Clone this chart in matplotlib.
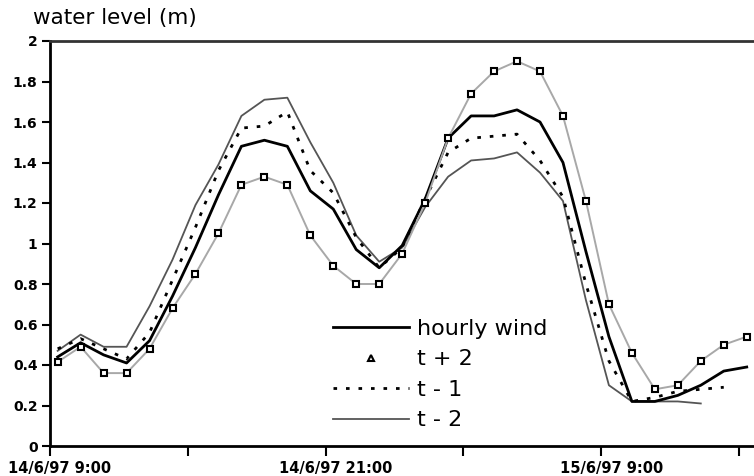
import matplotlib
matplotlib.use("Agg")
import matplotlib.pyplot as plt
from matplotlib.lines import Line2D
import matplotlib.transforms as mtransforms
import pandas as pd

# ---- data ----
times = pd.date_range("1997-06-14 09:20", periods=31, freq="h")

hourly_wind = [0.44, 0.51, 0.45, 0.41, 0.52, 0.74, 0.98, 1.24, 1.48, 1.51, 1.48, 1.26,
               1.17, 0.97, 0.88, 0.99, 1.22, 1.52, 1.63, 1.63, 1.66, 1.60, 1.40, 0.96,
               0.54, 0.22, 0.22, 0.25, 0.30, 0.37, 0.39]
t_plus2 = [0.415, 0.49, 0.36, 0.36, 0.48, 0.68, 0.85, 1.05, 1.29, 1.33, 1.29, 1.04,
           0.89, 0.80, 0.80, 0.95, 1.20, 1.52, 1.74, 1.85, 1.90, 1.85, 1.63, 1.21,
           0.70, 0.46, 0.28, 0.30, 0.42, 0.50, 0.54]
t_minus1 = [0.48, 0.53, 0.48, 0.43, 0.56, 0.82, 1.08, 1.36, 1.57, 1.58, 1.65, 1.36,
            1.25, 1.03, 0.88, 0.98, 1.22, 1.45, 1.52, 1.53, 1.54, 1.41, 1.23, 0.80,
            0.42, 0.22, 0.24, 0.27, 0.28, 0.29]
t_minus2 = [0.47, 0.55, 0.49, 0.49, 0.69, 0.92, 1.19, 1.39, 1.63, 1.71, 1.72, 1.50,
            1.30, 1.04, 0.91, 0.98, 1.18, 1.33, 1.41, 1.42, 1.45, 1.35, 1.21, 0.72,
            0.30, 0.22, 0.22, 0.22, 0.21]

series_labels = ["hourly wind", "t + 2", "t - 1", "t - 2"]
y_ticks = [0, 0.2, 0.4, 0.6, 0.8, 1, 1.2, 1.4, 1.6, 1.8, 2]
y_tick_labels = ["0", "0.2", "0.4", "0.6", "0.8", "1", "1.2", "1.4", "1.6", "1.8", "2"]
x_start = pd.Timestamp("1997-06-14 09:00")
x_end = pd.Timestamp("1997-06-15 15:39")
x_major = pd.date_range("1997-06-14 09:00", periods=3, freq="12h")
x_minor = pd.date_range("1997-06-14 09:00", periods=6, freq="6h")
x_tick_labels = ["14/6/97 9:00", "14/6/97 21:00", "15/6/97 9:00"]
y_title = "water level (m)"

# ---- figure ----
fig = plt.figure(figsize=(7.54, 4.76), dpi=100)
ax = fig.add_axes([50 / 754, 1 - 446 / 476, 1 - 50 / 754, (446 - 41) / 476])

ax.plot(times[:len(t_minus2)], t_minus2, color="#555555", lw=1.3, zorder=2)
ax.plot(times[:len(t_minus1)], t_minus1, color="black", lw=2.0,
        linestyle=(0, (1.3, 3.2)), zorder=3)
ax.plot(times[:len(hourly_wind)], hourly_wind, color="black", lw=2.0, zorder=4)
ax.plot(times[:len(t_plus2)], t_plus2, color="#a8a8a8", lw=1.4, marker="s", markersize=5,
        markerfacecolor="white", markeredgecolor="black", markeredgewidth=1.5, zorder=5)

ax.set_xlim(x_start, x_end)
ax.set_ylim(0, 2)

ax.set_yticks(y_ticks)
ax.set_yticklabels(y_tick_labels, fontsize=10, fontweight="bold")
ax.set_xticks(x_major)
ax.set_xticklabels(x_tick_labels, fontsize=10.5, fontweight="bold")
ax.set_xticks(x_minor, minor=True)
ax.tick_params(axis="x", which="both", direction="out", length=7, width=1.5, pad=3.5)
ax.tick_params(axis="y", direction="out", length=6, width=1.5, pad=3)
offset = mtransforms.ScaledTranslation(10 / 100, 0, fig.dpi_scale_trans)
for lbl in ax.get_xticklabels():
    lbl.set_transform(lbl.get_transform() + offset)

for s in ["left", "bottom"]:
    ax.spines[s].set_linewidth(2)
    ax.spines[s].set_color("black")
ax.spines["top"].set_linewidth(2)
ax.spines["top"].set_color("#333333")
ax.spines["right"].set_visible(False)

fig.text(33 / 754, 1 - 18 / 476, y_title, fontsize=15.5, va="center", ha="left")

handles = [
    Line2D([], [], color="black", lw=2.0),
    Line2D([], [], linestyle="none", marker="^", markersize=5, markerfacecolor="white",
           markeredgecolor="black", markeredgewidth=1.5),
    Line2D([], [], color="black", lw=2.0, linestyle=(0, (1.3, 3.2))),
    Line2D([], [], color="#555555", lw=1.3),
]
leg = ax.legend(handles, series_labels, loc="upper left",
                bbox_to_anchor=((333 - 50) / 704, 1 - (319 - 41) / 405),
                frameon=False, fontsize=16, handlelength=3.4, handletextpad=0.4,
                labelspacing=0.47, borderpad=0, borderaxespad=0)

fig.savefig("out.png", dpi=100)
